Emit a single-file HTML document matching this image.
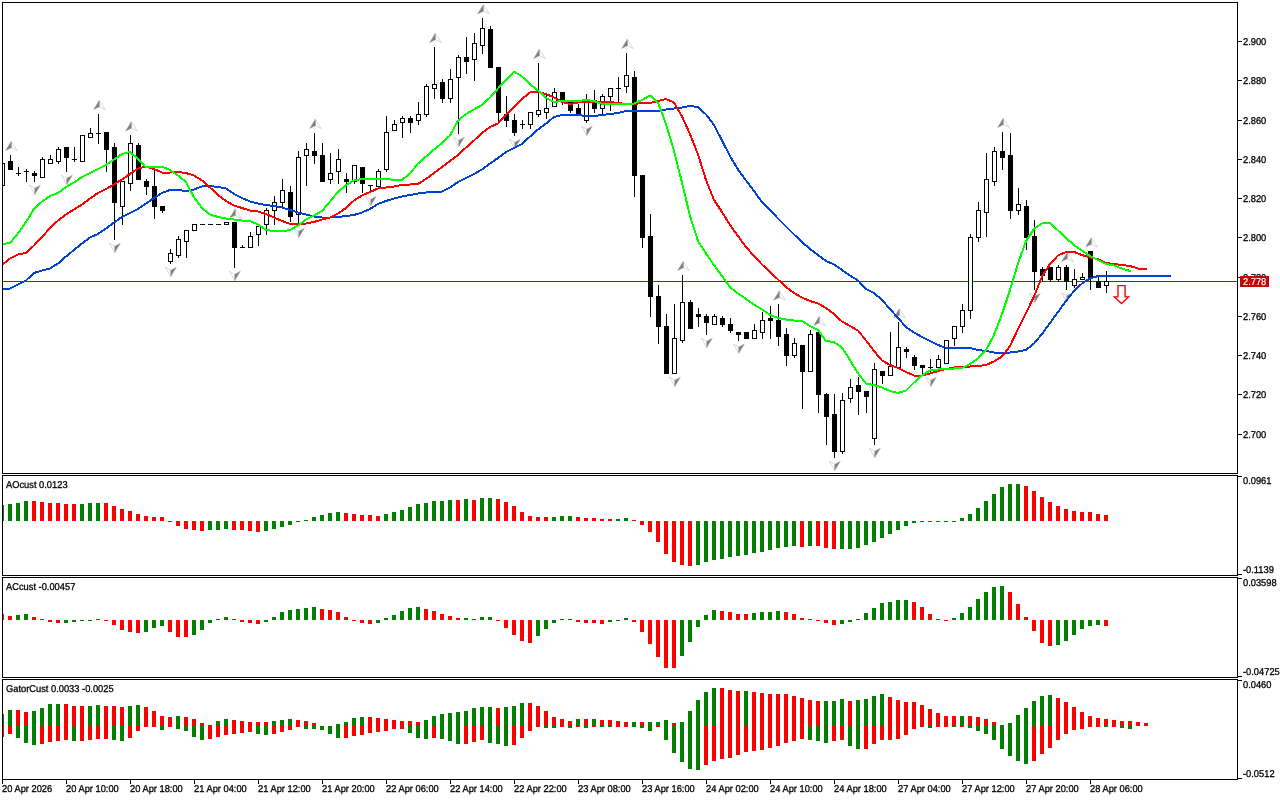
<!DOCTYPE html>
<html lang="en"><head><meta charset="utf-8"><title>Chart</title>
<style>html,body{margin:0;padding:0;background:#fff;overflow:hidden}svg{display:block}text{font-family:"Liberation Sans", Arial, sans-serif;font-size:9.9px;text-rendering:geometricPrecision;fill:#000;stroke:#000;stroke-width:0.3px}</style></head><body>
<svg width="1280" height="800" viewBox="0 0 1280 800">
<rect width="1280" height="800" fill="#fff"/>
<defs><clipPath id="cm"><rect x="3" y="3" width="1234" height="470"/></clipPath><clipPath id="c1"><rect x="3" y="476" width="1234" height="99"/></clipPath><clipPath id="c2"><rect x="3" y="578" width="1234" height="99"/></clipPath><clipPath id="c3"><rect x="3" y="680" width="1234" height="99"/></clipPath></defs>
<g clip-path="url(#cm)" shape-rendering="crispEdges">
<rect x="3" y="281" width="1234" height="1" fill="#cc0000"/>
<g fill="#000"><rect x="2" y="163" width="1" height="23"/><rect x="0" y="163" width="5" height="23"/><rect x="1" y="164" width="3" height="21" fill="#fff"/><rect x="10" y="155" width="1" height="15"/><rect x="8" y="161" width="5" height="9"/><rect x="18" y="167" width="1" height="9"/><rect x="16" y="173" width="5" height="1"/><rect x="26" y="169" width="1" height="13"/><rect x="24" y="171" width="5" height="1"/><rect x="34" y="171" width="1" height="11"/><rect x="32" y="173" width="5" height="3"/><rect x="42" y="157" width="1" height="21"/><rect x="40" y="159" width="5" height="19"/><rect x="41" y="160" width="3" height="17" fill="#fff"/><rect x="50" y="155" width="1" height="9"/><rect x="48" y="159" width="5" height="5"/><rect x="49" y="160" width="3" height="3" fill="#fff"/><rect x="58" y="147" width="1" height="17"/><rect x="56" y="149" width="5" height="13"/><rect x="57" y="150" width="3" height="11" fill="#fff"/><rect x="66" y="147" width="1" height="25"/><rect x="64" y="147" width="5" height="11"/><rect x="74" y="147" width="1" height="15"/><rect x="72" y="159" width="5" height="1"/><rect x="82" y="135" width="1" height="27"/><rect x="80" y="135" width="5" height="27"/><rect x="81" y="136" width="3" height="25" fill="#fff"/><rect x="90" y="128" width="1" height="10"/><rect x="88" y="133" width="5" height="5"/><rect x="89" y="134" width="3" height="3" fill="#fff"/><rect x="98" y="114" width="1" height="30"/><rect x="96" y="133" width="5" height="1"/><rect x="106" y="132" width="1" height="40"/><rect x="104" y="132" width="5" height="18"/><rect x="114" y="143" width="1" height="97"/><rect x="112" y="147" width="5" height="56"/><rect x="122" y="181" width="1" height="44"/><rect x="120" y="181" width="5" height="26"/><rect x="121" y="182" width="3" height="24" fill="#fff"/><rect x="130" y="135" width="1" height="56"/><rect x="128" y="143" width="5" height="41"/><rect x="129" y="144" width="3" height="39" fill="#fff"/><rect x="138" y="143" width="1" height="37"/><rect x="136" y="145" width="5" height="35"/><rect x="146" y="179" width="1" height="16"/><rect x="144" y="181" width="5" height="6"/><rect x="154" y="170" width="1" height="49"/><rect x="152" y="186" width="5" height="21"/><rect x="162" y="206" width="1" height="7"/><rect x="160" y="206" width="5" height="5"/><rect x="170" y="249" width="1" height="15"/><rect x="168" y="253" width="5" height="9"/><rect x="169" y="254" width="3" height="7" fill="#fff"/><rect x="178" y="236" width="1" height="22"/><rect x="176" y="239" width="5" height="17"/><rect x="177" y="240" width="3" height="15" fill="#fff"/><rect x="186" y="230" width="1" height="28"/><rect x="184" y="230" width="5" height="12"/><rect x="185" y="231" width="3" height="10" fill="#fff"/><rect x="194" y="224" width="1" height="7"/><rect x="192" y="224" width="5" height="7"/><rect x="193" y="225" width="3" height="5" fill="#fff"/><rect x="202" y="224" width="1" height="1"/><rect x="200" y="224" width="5" height="1"/><rect x="210" y="224" width="1" height="1"/><rect x="208" y="224" width="5" height="1"/><rect x="218" y="224" width="1" height="1"/><rect x="216" y="224" width="5" height="1"/><rect x="226" y="222" width="1" height="3"/><rect x="224" y="222" width="5" height="3"/><rect x="225" y="223" width="3" height="1" fill="#fff"/><rect x="234" y="222" width="1" height="46"/><rect x="232" y="222" width="5" height="26"/><rect x="242" y="245" width="1" height="3"/><rect x="240" y="247" width="5" height="1"/><rect x="250" y="232" width="1" height="16"/><rect x="248" y="236" width="5" height="12"/><rect x="249" y="237" width="3" height="10" fill="#fff"/><rect x="258" y="226" width="1" height="20"/><rect x="256" y="226" width="5" height="9"/><rect x="257" y="227" width="3" height="7" fill="#fff"/><rect x="266" y="208" width="1" height="27"/><rect x="264" y="210" width="5" height="15"/><rect x="265" y="211" width="3" height="13" fill="#fff"/><rect x="274" y="196" width="1" height="29"/><rect x="272" y="202" width="5" height="9"/><rect x="273" y="203" width="3" height="7" fill="#fff"/><rect x="282" y="179" width="1" height="28"/><rect x="280" y="190" width="5" height="13"/><rect x="281" y="191" width="3" height="11" fill="#fff"/><rect x="290" y="186" width="1" height="36"/><rect x="288" y="192" width="5" height="25"/><rect x="298" y="151" width="1" height="73"/><rect x="296" y="157" width="5" height="58"/><rect x="297" y="158" width="3" height="56" fill="#fff"/><rect x="306" y="143" width="1" height="43"/><rect x="304" y="149" width="5" height="7"/><rect x="305" y="150" width="3" height="5" fill="#fff"/><rect x="314" y="133" width="1" height="31"/><rect x="312" y="151" width="5" height="5"/><rect x="322" y="143" width="1" height="39"/><rect x="320" y="155" width="5" height="27"/><rect x="330" y="153" width="1" height="31"/><rect x="328" y="173" width="5" height="7"/><rect x="329" y="174" width="3" height="5" fill="#fff"/><rect x="338" y="149" width="1" height="35"/><rect x="336" y="159" width="5" height="13"/><rect x="337" y="160" width="3" height="11" fill="#fff"/><rect x="346" y="173" width="1" height="20"/><rect x="344" y="179" width="5" height="3"/><rect x="354" y="165" width="1" height="19"/><rect x="352" y="165" width="5" height="17"/><rect x="353" y="166" width="3" height="15" fill="#fff"/><rect x="362" y="167" width="1" height="26"/><rect x="360" y="167" width="5" height="17"/><rect x="370" y="185" width="1" height="7"/><rect x="368" y="185" width="5" height="1"/><rect x="378" y="169" width="1" height="18"/><rect x="376" y="171" width="5" height="16"/><rect x="377" y="172" width="3" height="14" fill="#fff"/><rect x="386" y="116" width="1" height="56"/><rect x="384" y="132" width="5" height="38"/><rect x="385" y="133" width="3" height="36" fill="#fff"/><rect x="394" y="120" width="1" height="11"/><rect x="392" y="124" width="5" height="7"/><rect x="393" y="125" width="3" height="5" fill="#fff"/><rect x="402" y="116" width="1" height="22"/><rect x="400" y="118" width="5" height="5"/><rect x="401" y="119" width="3" height="3" fill="#fff"/><rect x="410" y="116" width="1" height="17"/><rect x="408" y="118" width="5" height="5"/><rect x="418" y="102" width="1" height="23"/><rect x="416" y="114" width="5" height="7"/><rect x="417" y="115" width="3" height="5" fill="#fff"/><rect x="426" y="84" width="1" height="33"/><rect x="424" y="86" width="5" height="29"/><rect x="425" y="87" width="3" height="27" fill="#fff"/><rect x="434" y="47" width="1" height="52"/><rect x="432" y="84" width="5" height="5"/><rect x="433" y="85" width="3" height="3" fill="#fff"/><rect x="442" y="79" width="1" height="24"/><rect x="440" y="82" width="5" height="17"/><rect x="450" y="69" width="1" height="34"/><rect x="448" y="79" width="5" height="20"/><rect x="449" y="80" width="3" height="18" fill="#fff"/><rect x="458" y="55" width="1" height="79"/><rect x="456" y="57" width="5" height="21"/><rect x="457" y="58" width="3" height="19" fill="#fff"/><rect x="466" y="37" width="1" height="37"/><rect x="464" y="57" width="5" height="5"/><rect x="474" y="33" width="1" height="48"/><rect x="472" y="43" width="5" height="17"/><rect x="473" y="44" width="3" height="15" fill="#fff"/><rect x="482" y="18" width="1" height="36"/><rect x="480" y="28" width="5" height="18"/><rect x="481" y="29" width="3" height="16" fill="#fff"/><rect x="490" y="26" width="1" height="42"/><rect x="488" y="29" width="5" height="39"/><rect x="498" y="67" width="1" height="54"/><rect x="496" y="67" width="5" height="46"/><rect x="506" y="96" width="1" height="31"/><rect x="504" y="114" width="5" height="7"/><rect x="514" y="114" width="1" height="22"/><rect x="512" y="120" width="5" height="13"/><rect x="522" y="120" width="1" height="9"/><rect x="520" y="124" width="5" height="1"/><rect x="530" y="112" width="1" height="17"/><rect x="528" y="112" width="5" height="13"/><rect x="529" y="113" width="3" height="11" fill="#fff"/><rect x="538" y="63" width="1" height="54"/><rect x="536" y="110" width="5" height="5"/><rect x="537" y="111" width="3" height="3" fill="#fff"/><rect x="546" y="95" width="1" height="24"/><rect x="544" y="108" width="5" height="5"/><rect x="545" y="109" width="3" height="3" fill="#fff"/><rect x="554" y="88" width="1" height="19"/><rect x="552" y="92" width="5" height="15"/><rect x="553" y="93" width="3" height="13" fill="#fff"/><rect x="562" y="92" width="1" height="13"/><rect x="560" y="92" width="5" height="9"/><rect x="570" y="100" width="1" height="13"/><rect x="568" y="102" width="5" height="9"/><rect x="578" y="104" width="1" height="12"/><rect x="576" y="108" width="5" height="8"/><rect x="586" y="94" width="1" height="29"/><rect x="584" y="101" width="5" height="20"/><rect x="585" y="102" width="3" height="18" fill="#fff"/><rect x="594" y="90" width="1" height="23"/><rect x="592" y="100" width="5" height="9"/><rect x="602" y="94" width="1" height="20"/><rect x="600" y="96" width="5" height="13"/><rect x="601" y="97" width="3" height="11" fill="#fff"/><rect x="610" y="88" width="1" height="23"/><rect x="608" y="88" width="5" height="9"/><rect x="609" y="89" width="3" height="7" fill="#fff"/><rect x="618" y="77" width="1" height="26"/><rect x="616" y="88" width="5" height="1"/><rect x="626" y="53" width="1" height="40"/><rect x="624" y="75" width="5" height="12"/><rect x="625" y="76" width="3" height="10" fill="#fff"/><rect x="634" y="71" width="1" height="126"/><rect x="632" y="77" width="5" height="99"/><rect x="642" y="175" width="1" height="73"/><rect x="640" y="175" width="5" height="63"/><rect x="650" y="214" width="1" height="103"/><rect x="648" y="236" width="5" height="61"/><rect x="658" y="285" width="1" height="59"/><rect x="656" y="296" width="5" height="31"/><rect x="666" y="314" width="1" height="60"/><rect x="664" y="326" width="5" height="48"/><rect x="674" y="304" width="1" height="70"/><rect x="672" y="338" width="5" height="36"/><rect x="673" y="339" width="3" height="34" fill="#fff"/><rect x="682" y="275" width="1" height="68"/><rect x="680" y="302" width="5" height="39"/><rect x="681" y="303" width="3" height="37" fill="#fff"/><rect x="690" y="300" width="1" height="29"/><rect x="688" y="302" width="5" height="27"/><rect x="698" y="308" width="1" height="19"/><rect x="696" y="314" width="5" height="3"/><rect x="706" y="314" width="1" height="21"/><rect x="704" y="316" width="5" height="7"/><rect x="714" y="314" width="1" height="11"/><rect x="712" y="316" width="5" height="9"/><rect x="713" y="317" width="3" height="7" fill="#fff"/><rect x="722" y="316" width="1" height="11"/><rect x="720" y="318" width="5" height="7"/><rect x="730" y="318" width="1" height="15"/><rect x="728" y="324" width="5" height="7"/><rect x="738" y="332" width="1" height="9"/><rect x="736" y="332" width="5" height="3"/><rect x="746" y="332" width="1" height="7"/><rect x="744" y="332" width="5" height="7"/><rect x="754" y="324" width="1" height="15"/><rect x="752" y="330" width="5" height="9"/><rect x="753" y="331" width="3" height="7" fill="#fff"/><rect x="762" y="312" width="1" height="27"/><rect x="760" y="320" width="5" height="13"/><rect x="761" y="321" width="3" height="11" fill="#fff"/><rect x="770" y="306" width="1" height="33"/><rect x="768" y="318" width="5" height="3"/><rect x="778" y="304" width="1" height="42"/><rect x="776" y="320" width="5" height="17"/><rect x="786" y="328" width="1" height="38"/><rect x="784" y="334" width="5" height="22"/><rect x="794" y="338" width="1" height="20"/><rect x="792" y="343" width="5" height="13"/><rect x="793" y="344" width="3" height="11" fill="#fff"/><rect x="802" y="345" width="1" height="64"/><rect x="800" y="345" width="5" height="27"/><rect x="810" y="330" width="1" height="42"/><rect x="808" y="334" width="5" height="38"/><rect x="809" y="335" width="3" height="36" fill="#fff"/><rect x="818" y="332" width="1" height="81"/><rect x="816" y="332" width="5" height="63"/><rect x="826" y="393" width="1" height="52"/><rect x="824" y="394" width="5" height="23"/><rect x="834" y="394" width="1" height="64"/><rect x="832" y="414" width="5" height="38"/><rect x="842" y="393" width="1" height="61"/><rect x="840" y="400" width="5" height="52"/><rect x="841" y="401" width="3" height="50" fill="#fff"/><rect x="850" y="379" width="1" height="24"/><rect x="848" y="387" width="5" height="12"/><rect x="849" y="388" width="3" height="10" fill="#fff"/><rect x="858" y="377" width="1" height="38"/><rect x="856" y="385" width="5" height="7"/><rect x="866" y="391" width="1" height="22"/><rect x="864" y="391" width="5" height="6"/><rect x="874" y="363" width="1" height="82"/><rect x="872" y="369" width="5" height="70"/><rect x="873" y="370" width="3" height="68" fill="#fff"/><rect x="882" y="371" width="1" height="13"/><rect x="880" y="371" width="5" height="5"/><rect x="890" y="332" width="1" height="44"/><rect x="888" y="366" width="5" height="10"/><rect x="889" y="367" width="3" height="8" fill="#fff"/><rect x="898" y="322" width="1" height="46"/><rect x="896" y="347" width="5" height="21"/><rect x="897" y="348" width="3" height="19" fill="#fff"/><rect x="906" y="347" width="1" height="11"/><rect x="904" y="349" width="5" height="3"/><rect x="914" y="355" width="1" height="15"/><rect x="912" y="357" width="5" height="9"/><rect x="922" y="365" width="1" height="11"/><rect x="920" y="365" width="5" height="3"/><rect x="930" y="359" width="1" height="15"/><rect x="928" y="367" width="5" height="1"/><rect x="938" y="355" width="1" height="13"/><rect x="936" y="359" width="5" height="9"/><rect x="937" y="360" width="3" height="7" fill="#fff"/><rect x="946" y="340" width="1" height="24"/><rect x="944" y="340" width="5" height="24"/><rect x="945" y="341" width="3" height="22" fill="#fff"/><rect x="954" y="326" width="1" height="20"/><rect x="952" y="326" width="5" height="13"/><rect x="953" y="327" width="3" height="11" fill="#fff"/><rect x="962" y="304" width="1" height="29"/><rect x="960" y="310" width="5" height="17"/><rect x="961" y="311" width="3" height="15" fill="#fff"/><rect x="970" y="234" width="1" height="85"/><rect x="968" y="237" width="5" height="74"/><rect x="969" y="238" width="3" height="72" fill="#fff"/><rect x="978" y="202" width="1" height="40"/><rect x="976" y="210" width="5" height="28"/><rect x="977" y="211" width="3" height="26" fill="#fff"/><rect x="986" y="153" width="1" height="84"/><rect x="984" y="179" width="5" height="34"/><rect x="985" y="180" width="3" height="32" fill="#fff"/><rect x="994" y="147" width="1" height="39"/><rect x="992" y="151" width="5" height="31"/><rect x="993" y="152" width="3" height="29" fill="#fff"/><rect x="1002" y="132" width="1" height="38"/><rect x="1000" y="151" width="5" height="7"/><rect x="1010" y="133" width="1" height="86"/><rect x="1008" y="155" width="5" height="56"/><rect x="1018" y="188" width="1" height="27"/><rect x="1016" y="204" width="5" height="7"/><rect x="1017" y="205" width="3" height="5" fill="#fff"/><rect x="1026" y="200" width="1" height="50"/><rect x="1024" y="206" width="5" height="32"/><rect x="1034" y="220" width="1" height="70"/><rect x="1032" y="236" width="5" height="36"/><rect x="1042" y="267" width="1" height="15"/><rect x="1040" y="269" width="5" height="7"/><rect x="1050" y="267" width="1" height="15"/><rect x="1048" y="267" width="5" height="13"/><rect x="1058" y="265" width="1" height="17"/><rect x="1056" y="267" width="5" height="13"/><rect x="1057" y="268" width="3" height="11" fill="#fff"/><rect x="1066" y="265" width="1" height="25"/><rect x="1064" y="267" width="5" height="15"/><rect x="1074" y="269" width="1" height="19"/><rect x="1072" y="279" width="5" height="7"/><rect x="1073" y="280" width="3" height="5" fill="#fff"/><rect x="1082" y="273" width="1" height="7"/><rect x="1080" y="277" width="5" height="3"/><rect x="1081" y="278" width="3" height="1" fill="#fff"/><rect x="1090" y="251" width="1" height="39"/><rect x="1088" y="251" width="5" height="28"/><rect x="1098" y="275" width="1" height="13"/><rect x="1096" y="281" width="5" height="7"/><rect x="1106" y="271" width="1" height="22"/><rect x="1104" y="281" width="5" height="5"/><rect x="1105" y="282" width="3" height="3" fill="#fff"/></g>
</g>
<g clip-path="url(#cm)">
<path d="M11.25 141.3 L17.4 150.6 L11.5 147.8 Z" fill="#fff" stroke="#bcbcc8" stroke-width="0.6"/>
<path d="M11.25 141.3 L5.6 150.6 L11.5 147.8 Z" fill="#808080" stroke="#a0a0a0" stroke-width="0.4"/>
<path d="M99.25 100.3 L105.4 109.6 L99.5 106.8 Z" fill="#fff" stroke="#bcbcc8" stroke-width="0.6"/>
<path d="M99.25 100.3 L93.6 109.6 L99.5 106.8 Z" fill="#808080" stroke="#a0a0a0" stroke-width="0.4"/>
<path d="M131.25 121.8 L137.4 131.1 L131.5 128.3 Z" fill="#fff" stroke="#bcbcc8" stroke-width="0.6"/>
<path d="M131.25 121.8 L125.6 131.1 L131.5 128.3 Z" fill="#808080" stroke="#a0a0a0" stroke-width="0.4"/>
<path d="M235.25 208.8 L241.4 218.1 L235.5 215.3 Z" fill="#fff" stroke="#bcbcc8" stroke-width="0.6"/>
<path d="M235.25 208.8 L229.6 218.1 L235.5 215.3 Z" fill="#808080" stroke="#a0a0a0" stroke-width="0.4"/>
<path d="M315.25 119.3 L321.4 128.6 L315.5 125.8 Z" fill="#fff" stroke="#bcbcc8" stroke-width="0.6"/>
<path d="M315.25 119.3 L309.6 128.6 L315.5 125.8 Z" fill="#808080" stroke="#a0a0a0" stroke-width="0.4"/>
<path d="M435.25 33.3 L441.4 42.6 L435.5 39.8 Z" fill="#fff" stroke="#bcbcc8" stroke-width="0.6"/>
<path d="M435.25 33.3 L429.6 42.6 L435.5 39.8 Z" fill="#808080" stroke="#a0a0a0" stroke-width="0.4"/>
<path d="M483.25 4.7 L489.4 14 L483.5 11.2 Z" fill="#fff" stroke="#bcbcc8" stroke-width="0.6"/>
<path d="M483.25 4.7 L477.6 14 L483.5 11.2 Z" fill="#808080" stroke="#a0a0a0" stroke-width="0.4"/>
<path d="M539.25 49.3 L545.4 58.6 L539.5 55.8 Z" fill="#fff" stroke="#bcbcc8" stroke-width="0.6"/>
<path d="M539.25 49.3 L533.6 58.6 L539.5 55.8 Z" fill="#808080" stroke="#a0a0a0" stroke-width="0.4"/>
<path d="M627.25 39.3 L633.4 48.6 L627.5 45.8 Z" fill="#fff" stroke="#bcbcc8" stroke-width="0.6"/>
<path d="M627.25 39.3 L621.6 48.6 L627.5 45.8 Z" fill="#808080" stroke="#a0a0a0" stroke-width="0.4"/>
<path d="M683.25 261.3 L689.4 270.6 L683.5 267.8 Z" fill="#fff" stroke="#bcbcc8" stroke-width="0.6"/>
<path d="M683.25 261.3 L677.6 270.6 L683.5 267.8 Z" fill="#808080" stroke="#a0a0a0" stroke-width="0.4"/>
<path d="M779.25 290.9 L785.4 300.2 L779.5 297.4 Z" fill="#fff" stroke="#bcbcc8" stroke-width="0.6"/>
<path d="M779.25 290.9 L773.6 300.2 L779.5 297.4 Z" fill="#808080" stroke="#a0a0a0" stroke-width="0.4"/>
<path d="M819.25 316.3 L825.4 325.6 L819.5 322.8 Z" fill="#fff" stroke="#bcbcc8" stroke-width="0.6"/>
<path d="M819.25 316.3 L813.6 325.6 L819.5 322.8 Z" fill="#808080" stroke="#a0a0a0" stroke-width="0.4"/>
<path d="M899.25 308.8 L905.4 318.1 L899.5 315.3 Z" fill="#fff" stroke="#bcbcc8" stroke-width="0.6"/>
<path d="M899.25 308.8 L893.6 318.1 L899.5 315.3 Z" fill="#808080" stroke="#a0a0a0" stroke-width="0.4"/>
<path d="M1003.25 118.3 L1009.4 127.6 L1003.5 124.8 Z" fill="#fff" stroke="#bcbcc8" stroke-width="0.6"/>
<path d="M1003.25 118.3 L997.6 127.6 L1003.5 124.8 Z" fill="#808080" stroke="#a0a0a0" stroke-width="0.4"/>
<path d="M1067.25 252.3 L1073.4 261.6 L1067.5 258.8 Z" fill="#fff" stroke="#bcbcc8" stroke-width="0.6"/>
<path d="M1067.25 252.3 L1061.6 261.6 L1067.5 258.8 Z" fill="#808080" stroke="#a0a0a0" stroke-width="0.4"/>
<path d="M1091.25 237.8 L1097.4 247.1 L1091.5 244.3 Z" fill="#fff" stroke="#bcbcc8" stroke-width="0.6"/>
<path d="M1091.25 237.8 L1085.6 247.1 L1091.5 244.3 Z" fill="#808080" stroke="#a0a0a0" stroke-width="0.4"/>
<path d="M34.75 194.5 L29.4 185.2 L34.75 188.2 Z" fill="#fff" stroke="#bcbcc8" stroke-width="0.6"/>
<path d="M34.75 194.5 L40.4 185.2 L34.75 188.2 Z" fill="#808080" stroke="#a0a0a0" stroke-width="0.4"/>
<path d="M66.75 184.5 L61.4 175.2 L66.75 178.2 Z" fill="#fff" stroke="#bcbcc8" stroke-width="0.6"/>
<path d="M66.75 184.5 L72.4 175.2 L66.75 178.2 Z" fill="#808080" stroke="#a0a0a0" stroke-width="0.4"/>
<path d="M114.75 252.5 L109.4 243.2 L114.75 246.2 Z" fill="#fff" stroke="#bcbcc8" stroke-width="0.6"/>
<path d="M114.75 252.5 L120.4 243.2 L114.75 246.2 Z" fill="#808080" stroke="#a0a0a0" stroke-width="0.4"/>
<path d="M170.75 276.5 L165.4 267.2 L170.75 270.2 Z" fill="#fff" stroke="#bcbcc8" stroke-width="0.6"/>
<path d="M170.75 276.5 L176.4 267.2 L170.75 270.2 Z" fill="#808080" stroke="#a0a0a0" stroke-width="0.4"/>
<path d="M234.75 280.5 L229.4 271.2 L234.75 274.2 Z" fill="#fff" stroke="#bcbcc8" stroke-width="0.6"/>
<path d="M234.75 280.5 L240.4 271.2 L234.75 274.2 Z" fill="#808080" stroke="#a0a0a0" stroke-width="0.4"/>
<path d="M298.75 237.5 L293.4 228.2 L298.75 231.2 Z" fill="#fff" stroke="#bcbcc8" stroke-width="0.6"/>
<path d="M298.75 237.5 L304.4 228.2 L298.75 231.2 Z" fill="#808080" stroke="#a0a0a0" stroke-width="0.4"/>
<path d="M370.75 205.5 L365.4 196.2 L370.75 199.2 Z" fill="#fff" stroke="#bcbcc8" stroke-width="0.6"/>
<path d="M370.75 205.5 L376.4 196.2 L370.75 199.2 Z" fill="#808080" stroke="#a0a0a0" stroke-width="0.4"/>
<path d="M458.75 146.5 L453.4 137.2 L458.75 140.2 Z" fill="#fff" stroke="#bcbcc8" stroke-width="0.6"/>
<path d="M458.75 146.5 L464.4 137.2 L458.75 140.2 Z" fill="#808080" stroke="#a0a0a0" stroke-width="0.4"/>
<path d="M514.75 148.5 L509.4 139.2 L514.75 142.2 Z" fill="#fff" stroke="#bcbcc8" stroke-width="0.6"/>
<path d="M514.75 148.5 L520.4 139.2 L514.75 142.2 Z" fill="#808080" stroke="#a0a0a0" stroke-width="0.4"/>
<path d="M586.75 135.5 L581.4 126.2 L586.75 129.2 Z" fill="#fff" stroke="#bcbcc8" stroke-width="0.6"/>
<path d="M586.75 135.5 L592.4 126.2 L586.75 129.2 Z" fill="#808080" stroke="#a0a0a0" stroke-width="0.4"/>
<path d="M674.75 386.5 L669.4 377.2 L674.75 380.2 Z" fill="#fff" stroke="#bcbcc8" stroke-width="0.6"/>
<path d="M674.75 386.5 L680.4 377.2 L674.75 380.2 Z" fill="#808080" stroke="#a0a0a0" stroke-width="0.4"/>
<path d="M706.75 347.5 L701.4 338.2 L706.75 341.2 Z" fill="#fff" stroke="#bcbcc8" stroke-width="0.6"/>
<path d="M706.75 347.5 L712.4 338.2 L706.75 341.2 Z" fill="#808080" stroke="#a0a0a0" stroke-width="0.4"/>
<path d="M738.75 353.25 L733.4 343.95 L738.75 346.95 Z" fill="#fff" stroke="#bcbcc8" stroke-width="0.6"/>
<path d="M738.75 353.25 L744.4 343.95 L738.75 346.95 Z" fill="#808080" stroke="#a0a0a0" stroke-width="0.4"/>
<path d="M834.75 470.5 L829.4 461.2 L834.75 464.2 Z" fill="#fff" stroke="#bcbcc8" stroke-width="0.6"/>
<path d="M834.75 470.5 L840.4 461.2 L834.75 464.2 Z" fill="#808080" stroke="#a0a0a0" stroke-width="0.4"/>
<path d="M874.75 457.5 L869.4 448.2 L874.75 451.2 Z" fill="#fff" stroke="#bcbcc8" stroke-width="0.6"/>
<path d="M874.75 457.5 L880.4 448.2 L874.75 451.2 Z" fill="#808080" stroke="#a0a0a0" stroke-width="0.4"/>
<path d="M930.75 386.5 L925.4 377.2 L930.75 380.2 Z" fill="#fff" stroke="#bcbcc8" stroke-width="0.6"/>
<path d="M930.75 386.5 L936.4 377.2 L930.75 380.2 Z" fill="#808080" stroke="#a0a0a0" stroke-width="0.4"/>
<path d="M1034.75 302.5 L1029.4 293.2 L1034.75 296.2 Z" fill="#fff" stroke="#bcbcc8" stroke-width="0.6"/>
<path d="M1034.75 302.5 L1040.4 293.2 L1034.75 296.2 Z" fill="#808080" stroke="#a0a0a0" stroke-width="0.4"/>
<path d="M1066.75 302 L1061.4 292.7 L1066.75 295.7 Z" fill="#fff" stroke="#bcbcc8" stroke-width="0.6"/>
<path d="M1066.75 302 L1072.4 292.7 L1066.75 295.7 Z" fill="#808080" stroke="#a0a0a0" stroke-width="0.4"/>
<g shape-rendering="crispEdges">
<polyline fill="none" stroke="#0042d2" stroke-width="2" stroke-linejoin="round" stroke-linecap="square" points="2,288.5 10,288.5 18,284.5 26,280.5 34,273 42,270.5 50,268.5 58,263.5 66,256.5 74,250 82,243.5 90,237.5 98,234 106,228.5 114,222.5 122,217 130,213 138,209 146,203.5 154,198 162,193 170,190 178,190 186,191 194,189.5 202,186.5 210,186 218,187 226,188.5 234,194 242,198 250,201.5 258,203.5 266,205 274,206 282,207.5 290,210 298,212.5 306,214.5 314,216.5 322,217.5 330,217.5 338,217 346,216 354,215 362,212.5 370,209 378,204 386,201 394,198.5 402,196.5 410,195 418,193.5 426,192.5 434,192 442,191.5 450,187.5 458,182 466,178 474,174 482,169.5 490,163.5 498,158 506,152 514,148 522,144 530,136.5 538,129.5 546,123.5 554,117 562,115 570,115 578,115 586,116 594,116 602,115 610,114 618,113 626,111 634,111 642,111 650,111 658,111 666,109.5 674,108.5 682,107.5 690,106 698,107 706,114.5 714,125 722,140.5 730,156 738,169.5 746,180.5 754,191 762,202 770,210 778,218.5 786,226.5 794,234.5 802,242 810,249 818,255 826,261 834,264.5 842,270 850,275.5 858,280.5 866,289 874,293 882,300 890,309 898,318 906,327 914,332.5 922,337 930,341 938,345 946,348 954,348 962,348 970,348 978,350 986,351 994,352.5 1002,352.5 1010,352.5 1018,351.5 1026,350 1034,343.5 1042,334 1050,323 1058,312 1066,301 1074,291 1082,283.5 1090,278.5 1098,276 1106,276 1114,276 1122,276 1130,276 1138,276 1146,276 1154,276 1162,276 1170,276"/>
<polyline fill="none" stroke="#ff0000" stroke-width="2" stroke-linejoin="round" stroke-linecap="square" points="2,265 10,258.5 18,254.5 26,253 34,245.5 42,237 50,228 58,220.5 66,214.5 74,209.5 82,204.5 90,198.5 98,193 106,189 114,184.5 122,179.5 130,174 138,168.5 146,166.5 154,169 162,172.5 170,172.5 178,172 186,173 194,175.5 202,180.5 210,187.5 218,195 226,201 234,205.5 242,208 250,210.5 258,211.5 266,214 274,217.5 282,221 290,224 298,224 306,223.5 314,222 322,219.5 330,217.5 338,213.5 346,208 354,200.5 362,195.5 370,192 378,188.5 386,187.5 394,186.5 402,185 410,184.5 418,184 426,179 434,173 442,167 450,161 458,155 466,147.5 474,140.5 482,133 490,127 498,123.5 506,114.5 514,107 522,99 530,92.5 538,92 546,94 554,97.5 562,102 570,104 578,102.5 586,102 594,102 602,102 610,102 618,103 626,104 634,104 642,103 650,103 658,101 666,99 674,102.5 682,116.5 690,134 698,154.5 706,180 714,200 722,212 730,225 738,236 746,247 754,256 762,264.5 770,272 778,279.5 786,287 794,293 802,297.5 810,301 818,303.5 826,308 834,314 842,321.5 850,326 858,330.5 866,340.5 874,351 882,360.5 890,365 898,368 906,372 914,375.5 922,375.5 930,373.5 938,371 946,369 954,367.5 962,367 970,366.5 978,366 986,365 994,361.5 1002,356.5 1010,346 1018,329 1026,313 1034,296.5 1042,276.5 1050,264 1058,255.5 1066,252 1074,252 1082,255 1090,257.5 1098,259 1106,263 1114,264 1122,265 1130,266 1138,268.5 1146,269"/>
<polyline fill="none" stroke="#00ff00" stroke-width="2" stroke-linejoin="round" stroke-linecap="square" points="2,244 10,243 18,233.5 26,222 34,209 42,201.5 50,196 58,193 66,187 74,182.5 82,177 90,173 98,169 106,165 114,159.5 122,154 130,152 138,159 146,167.5 154,167 162,166.5 170,170 178,175.5 186,182 194,197.5 202,208 210,214.5 218,217 226,218.5 234,219.5 242,220.5 250,221 258,224.5 266,230 274,231 282,231.5 290,230 298,225.5 306,219.5 314,215.5 322,211 330,201.5 338,192 346,185 354,180.5 362,179 370,179 378,178.5 386,178.5 394,180 402,180 410,173.5 418,163.5 426,156.5 434,149.5 442,143 450,135.5 458,120.5 466,114 474,109.5 482,105 490,97.5 498,88.5 506,80 514,71.5 522,76.5 530,84 538,90.5 546,98 554,102 562,101 570,101 578,101 586,100 594,101 602,104 610,104 618,104 626,104 634,103.5 642,100 650,95.5 658,102.5 666,124 674,151 682,182.5 690,216 698,241 706,253.5 714,265 722,276 730,287 738,293.5 746,299 754,304.5 762,309.5 770,315 778,318 786,319.5 794,320.5 802,321 810,326 818,330 826,341 834,342 842,347.5 850,360 858,373.5 866,383.5 874,385 882,387.5 890,391 898,393 906,390.5 914,382.5 922,375.5 930,370.5 938,369.5 946,369 954,368.5 962,368 970,364 978,358.5 986,350 994,335 1002,314 1010,290 1018,263.5 1026,241 1034,229 1042,223.5 1050,223 1058,230.5 1066,238 1074,245 1082,250.5 1090,256 1098,260 1106,264 1114,265.5 1122,268.5 1130,271"/>
</g>
<path d="M1118 285.6 H1125.1 V296.9 H1128.6 L1121.5 303.6 L1114.4 296.9 H1118 Z" fill="#fff" stroke="#ff0000" stroke-width="1.4"/>
</g>
<g clip-path="url(#c1)" shape-rendering="crispEdges"><g fill="#ff0000"><rect x="32" y="501" width="4" height="20"/><rect x="40" y="502" width="4" height="19"/><rect x="48" y="503" width="4" height="18"/><rect x="56" y="503" width="4" height="18"/><rect x="64" y="504" width="4" height="17"/><rect x="72" y="504" width="4" height="17"/><rect x="104" y="503" width="4" height="18"/><rect x="112" y="506" width="4" height="15"/><rect x="120" y="509" width="4" height="12"/><rect x="128" y="511" width="4" height="10"/><rect x="136" y="514" width="4" height="7"/><rect x="144" y="516" width="4" height="5"/><rect x="152" y="517" width="4" height="4"/><rect x="160" y="517" width="4" height="4"/><rect x="168" y="521" width="4" height="1"/><rect x="176" y="521" width="4" height="5"/><rect x="184" y="521" width="4" height="8"/><rect x="192" y="521" width="4" height="9"/><rect x="200" y="521" width="4" height="10"/><rect x="232" y="521" width="4" height="9"/><rect x="240" y="521" width="4" height="9"/><rect x="248" y="521" width="4" height="10"/><rect x="256" y="521" width="4" height="11"/><rect x="344" y="513" width="4" height="8"/><rect x="352" y="514" width="4" height="7"/><rect x="360" y="515" width="4" height="6"/><rect x="368" y="515" width="4" height="6"/><rect x="376" y="516" width="4" height="5"/><rect x="456" y="500" width="4" height="21"/><rect x="472" y="500" width="4" height="21"/><rect x="496" y="499" width="4" height="22"/><rect x="504" y="502" width="4" height="19"/><rect x="512" y="506" width="4" height="15"/><rect x="520" y="512" width="4" height="9"/><rect x="528" y="516" width="4" height="5"/><rect x="536" y="517" width="4" height="4"/><rect x="544" y="517" width="4" height="4"/><rect x="576" y="517" width="4" height="4"/><rect x="584" y="518" width="4" height="3"/><rect x="592" y="518" width="4" height="3"/><rect x="600" y="519" width="4" height="2"/><rect x="608" y="519" width="4" height="2"/><rect x="632" y="520" width="4" height="1"/><rect x="640" y="521" width="4" height="4"/><rect x="648" y="521" width="4" height="11"/><rect x="656" y="521" width="4" height="21"/><rect x="664" y="521" width="4" height="33"/><rect x="672" y="521" width="4" height="41"/><rect x="680" y="521" width="4" height="44"/><rect x="688" y="521" width="4" height="45"/><rect x="800" y="521" width="4" height="26"/><rect x="816" y="521" width="4" height="25"/><rect x="824" y="521" width="4" height="27"/><rect x="832" y="521" width="4" height="28"/><rect x="928" y="521" width="4" height="1"/><rect x="936" y="521" width="4" height="1"/><rect x="1024" y="486" width="4" height="35"/><rect x="1032" y="491" width="4" height="30"/><rect x="1040" y="497" width="4" height="24"/><rect x="1048" y="502" width="4" height="19"/><rect x="1056" y="506" width="4" height="15"/><rect x="1064" y="509" width="4" height="12"/><rect x="1072" y="511" width="4" height="10"/><rect x="1080" y="512" width="4" height="9"/><rect x="1088" y="512" width="4" height="9"/><rect x="1096" y="514" width="4" height="7"/><rect x="1104" y="515" width="4" height="6"/></g><g fill="#008000"><rect x="0" y="505" width="4" height="16"/><rect x="8" y="504" width="4" height="17"/><rect x="16" y="503" width="4" height="18"/><rect x="24" y="501" width="4" height="20"/><rect x="80" y="504" width="4" height="17"/><rect x="88" y="503" width="4" height="18"/><rect x="96" y="503" width="4" height="18"/><rect x="208" y="521" width="4" height="9"/><rect x="216" y="521" width="4" height="9"/><rect x="224" y="521" width="4" height="8"/><rect x="264" y="521" width="4" height="10"/><rect x="272" y="521" width="4" height="8"/><rect x="280" y="521" width="4" height="6"/><rect x="288" y="521" width="4" height="4"/><rect x="296" y="521" width="4" height="1"/><rect x="304" y="520" width="4" height="1"/><rect x="312" y="517" width="4" height="4"/><rect x="320" y="515" width="4" height="6"/><rect x="328" y="513" width="4" height="8"/><rect x="336" y="512" width="4" height="9"/><rect x="384" y="514" width="4" height="7"/><rect x="392" y="512" width="4" height="9"/><rect x="400" y="510" width="4" height="11"/><rect x="408" y="507" width="4" height="14"/><rect x="416" y="504" width="4" height="17"/><rect x="424" y="503" width="4" height="18"/><rect x="432" y="501" width="4" height="20"/><rect x="440" y="501" width="4" height="20"/><rect x="448" y="500" width="4" height="21"/><rect x="464" y="499" width="4" height="22"/><rect x="480" y="498" width="4" height="23"/><rect x="488" y="498" width="4" height="23"/><rect x="552" y="517" width="4" height="4"/><rect x="560" y="516" width="4" height="5"/><rect x="568" y="516" width="4" height="5"/><rect x="616" y="519" width="4" height="2"/><rect x="624" y="518" width="4" height="3"/><rect x="696" y="521" width="4" height="44"/><rect x="704" y="521" width="4" height="41"/><rect x="712" y="521" width="4" height="39"/><rect x="720" y="521" width="4" height="38"/><rect x="728" y="521" width="4" height="36"/><rect x="736" y="521" width="4" height="35"/><rect x="744" y="521" width="4" height="34"/><rect x="752" y="521" width="4" height="32"/><rect x="760" y="521" width="4" height="31"/><rect x="768" y="521" width="4" height="29"/><rect x="776" y="521" width="4" height="27"/><rect x="784" y="521" width="4" height="26"/><rect x="792" y="521" width="4" height="25"/><rect x="808" y="521" width="4" height="25"/><rect x="840" y="521" width="4" height="28"/><rect x="848" y="521" width="4" height="28"/><rect x="856" y="521" width="4" height="27"/><rect x="864" y="521" width="4" height="24"/><rect x="872" y="521" width="4" height="21"/><rect x="880" y="521" width="4" height="17"/><rect x="888" y="521" width="4" height="13"/><rect x="896" y="521" width="4" height="9"/><rect x="904" y="521" width="4" height="5"/><rect x="912" y="521" width="4" height="2"/><rect x="920" y="521" width="4" height="1"/><rect x="944" y="521" width="4" height="1"/><rect x="952" y="521" width="4" height="1"/><rect x="960" y="518" width="4" height="3"/><rect x="968" y="514" width="4" height="7"/><rect x="976" y="508" width="4" height="13"/><rect x="984" y="501" width="4" height="20"/><rect x="992" y="494" width="4" height="27"/><rect x="1000" y="487" width="4" height="34"/><rect x="1008" y="484" width="4" height="37"/><rect x="1016" y="484" width="4" height="37"/></g></g>
<g clip-path="url(#c2)" shape-rendering="crispEdges"><g fill="#ff0000"><rect x="0" y="614" width="4" height="6"/><rect x="8" y="616" width="4" height="4"/><rect x="32" y="617" width="4" height="3"/><rect x="40" y="619" width="4" height="1"/><rect x="48" y="620" width="4" height="2"/><rect x="56" y="620" width="4" height="3"/><rect x="104" y="620" width="4" height="1"/><rect x="112" y="620" width="4" height="5"/><rect x="120" y="620" width="4" height="10"/><rect x="128" y="620" width="4" height="12"/><rect x="136" y="620" width="4" height="13"/><rect x="168" y="620" width="4" height="12"/><rect x="176" y="620" width="4" height="17"/><rect x="184" y="620" width="4" height="17"/><rect x="232" y="619" width="4" height="1"/><rect x="240" y="620" width="4" height="2"/><rect x="248" y="620" width="4" height="3"/><rect x="256" y="620" width="4" height="4"/><rect x="320" y="609" width="4" height="11"/><rect x="328" y="610" width="4" height="10"/><rect x="336" y="612" width="4" height="8"/><rect x="344" y="617" width="4" height="3"/><rect x="352" y="620" width="4" height="1"/><rect x="360" y="620" width="4" height="3"/><rect x="368" y="620" width="4" height="4"/><rect x="424" y="609" width="4" height="11"/><rect x="432" y="611" width="4" height="9"/><rect x="440" y="614" width="4" height="6"/><rect x="448" y="616" width="4" height="4"/><rect x="456" y="618" width="4" height="2"/><rect x="472" y="619" width="4" height="1"/><rect x="496" y="620" width="4" height="1"/><rect x="504" y="620" width="4" height="8"/><rect x="512" y="620" width="4" height="15"/><rect x="520" y="620" width="4" height="21"/><rect x="528" y="620" width="4" height="23"/><rect x="576" y="620" width="4" height="2"/><rect x="584" y="620" width="4" height="3"/><rect x="592" y="620" width="4" height="3"/><rect x="600" y="620" width="4" height="4"/><rect x="632" y="620" width="4" height="2"/><rect x="640" y="620" width="4" height="12"/><rect x="648" y="620" width="4" height="24"/><rect x="656" y="620" width="4" height="37"/><rect x="664" y="620" width="4" height="48"/><rect x="672" y="620" width="4" height="48"/><rect x="720" y="611" width="4" height="9"/><rect x="728" y="612" width="4" height="8"/><rect x="736" y="614" width="4" height="6"/><rect x="744" y="614" width="4" height="6"/><rect x="784" y="612" width="4" height="8"/><rect x="792" y="614" width="4" height="6"/><rect x="800" y="618" width="4" height="2"/><rect x="808" y="619" width="4" height="1"/><rect x="816" y="620" width="4" height="1"/><rect x="824" y="620" width="4" height="3"/><rect x="832" y="620" width="4" height="5"/><rect x="912" y="602" width="4" height="18"/><rect x="920" y="607" width="4" height="13"/><rect x="928" y="614" width="4" height="6"/><rect x="936" y="619" width="4" height="1"/><rect x="944" y="620" width="4" height="1"/><rect x="1008" y="592" width="4" height="28"/><rect x="1016" y="604" width="4" height="16"/><rect x="1024" y="617" width="4" height="3"/><rect x="1032" y="620" width="4" height="11"/><rect x="1040" y="620" width="4" height="23"/><rect x="1048" y="620" width="4" height="26"/><rect x="1104" y="620" width="4" height="6"/></g><g fill="#008000"><rect x="16" y="615" width="4" height="5"/><rect x="24" y="614" width="4" height="6"/><rect x="64" y="620" width="4" height="3"/><rect x="72" y="620" width="4" height="2"/><rect x="80" y="620" width="4" height="1"/><rect x="88" y="620" width="4" height="1"/><rect x="96" y="619" width="4" height="1"/><rect x="144" y="620" width="4" height="12"/><rect x="152" y="620" width="4" height="8"/><rect x="160" y="620" width="4" height="6"/><rect x="192" y="620" width="4" height="15"/><rect x="200" y="620" width="4" height="10"/><rect x="208" y="620" width="4" height="3"/><rect x="216" y="619" width="4" height="1"/><rect x="224" y="617" width="4" height="3"/><rect x="264" y="620" width="4" height="2"/><rect x="272" y="617" width="4" height="3"/><rect x="280" y="612" width="4" height="8"/><rect x="288" y="610" width="4" height="10"/><rect x="296" y="609" width="4" height="11"/><rect x="304" y="608" width="4" height="12"/><rect x="312" y="607" width="4" height="13"/><rect x="376" y="620" width="4" height="3"/><rect x="384" y="618" width="4" height="2"/><rect x="392" y="615" width="4" height="5"/><rect x="400" y="611" width="4" height="9"/><rect x="408" y="608" width="4" height="12"/><rect x="416" y="607" width="4" height="13"/><rect x="464" y="618" width="4" height="2"/><rect x="480" y="617" width="4" height="3"/><rect x="488" y="617" width="4" height="3"/><rect x="536" y="620" width="4" height="16"/><rect x="544" y="620" width="4" height="9"/><rect x="552" y="620" width="4" height="3"/><rect x="560" y="619" width="4" height="1"/><rect x="568" y="619" width="4" height="1"/><rect x="608" y="620" width="4" height="2"/><rect x="616" y="620" width="4" height="1"/><rect x="624" y="618" width="4" height="2"/><rect x="680" y="620" width="4" height="36"/><rect x="688" y="620" width="4" height="22"/><rect x="696" y="620" width="4" height="7"/><rect x="704" y="615" width="4" height="5"/><rect x="712" y="610" width="4" height="10"/><rect x="752" y="613" width="4" height="7"/><rect x="760" y="612" width="4" height="8"/><rect x="768" y="612" width="4" height="8"/><rect x="776" y="611" width="4" height="9"/><rect x="840" y="620" width="4" height="4"/><rect x="848" y="620" width="4" height="2"/><rect x="856" y="619" width="4" height="1"/><rect x="864" y="613" width="4" height="7"/><rect x="872" y="608" width="4" height="12"/><rect x="880" y="603" width="4" height="17"/><rect x="888" y="602" width="4" height="18"/><rect x="896" y="600" width="4" height="20"/><rect x="904" y="600" width="4" height="20"/><rect x="952" y="618" width="4" height="2"/><rect x="960" y="613" width="4" height="7"/><rect x="968" y="607" width="4" height="13"/><rect x="976" y="599" width="4" height="21"/><rect x="984" y="592" width="4" height="28"/><rect x="992" y="587" width="4" height="33"/><rect x="1000" y="586" width="4" height="34"/><rect x="1056" y="620" width="4" height="25"/><rect x="1064" y="620" width="4" height="21"/><rect x="1072" y="620" width="4" height="15"/><rect x="1080" y="620" width="4" height="9"/><rect x="1088" y="620" width="4" height="6"/><rect x="1096" y="620" width="4" height="5"/></g></g>
<g clip-path="url(#c3)" shape-rendering="crispEdges"><g fill="#ff0000"><rect x="16" y="710" width="4" height="16"/><rect x="24" y="712" width="4" height="14"/><rect x="64" y="704" width="4" height="22"/><rect x="72" y="706" width="4" height="20"/><rect x="80" y="706" width="4" height="20"/><rect x="104" y="706" width="4" height="20"/><rect x="112" y="706" width="4" height="20"/><rect x="120" y="707" width="4" height="19"/><rect x="144" y="707" width="4" height="19"/><rect x="152" y="711" width="4" height="15"/><rect x="160" y="716" width="4" height="10"/><rect x="168" y="717" width="4" height="9"/><rect x="184" y="717" width="4" height="9"/><rect x="192" y="719" width="4" height="7"/><rect x="200" y="723" width="4" height="3"/><rect x="208" y="725" width="4" height="1"/><rect x="232" y="720" width="4" height="6"/><rect x="240" y="721" width="4" height="5"/><rect x="248" y="722" width="4" height="4"/><rect x="256" y="722" width="4" height="4"/><rect x="264" y="722" width="4" height="4"/><rect x="296" y="720" width="4" height="6"/><rect x="304" y="721" width="4" height="5"/><rect x="312" y="723" width="4" height="3"/><rect x="368" y="717" width="4" height="9"/><rect x="376" y="718" width="4" height="8"/><rect x="384" y="719" width="4" height="7"/><rect x="392" y="720" width="4" height="6"/><rect x="400" y="721" width="4" height="5"/><rect x="408" y="721" width="4" height="5"/><rect x="416" y="722" width="4" height="4"/><rect x="496" y="708" width="4" height="18"/><rect x="528" y="703" width="4" height="23"/><rect x="536" y="706" width="4" height="20"/><rect x="544" y="711" width="4" height="15"/><rect x="552" y="717" width="4" height="9"/><rect x="560" y="719" width="4" height="7"/><rect x="568" y="721" width="4" height="5"/><rect x="584" y="719" width="4" height="7"/><rect x="600" y="720" width="4" height="6"/><rect x="608" y="720" width="4" height="6"/><rect x="616" y="721" width="4" height="5"/><rect x="624" y="722" width="4" height="4"/><rect x="640" y="722" width="4" height="4"/><rect x="672" y="723" width="4" height="3"/><rect x="720" y="688" width="4" height="38"/><rect x="728" y="690" width="4" height="36"/><rect x="736" y="691" width="4" height="35"/><rect x="752" y="692" width="4" height="34"/><rect x="760" y="693" width="4" height="33"/><rect x="768" y="694" width="4" height="32"/><rect x="776" y="694" width="4" height="32"/><rect x="784" y="694" width="4" height="32"/><rect x="792" y="696" width="4" height="30"/><rect x="800" y="698" width="4" height="28"/><rect x="808" y="700" width="4" height="26"/><rect x="816" y="701" width="4" height="25"/><rect x="848" y="701" width="4" height="25"/><rect x="888" y="697" width="4" height="29"/><rect x="896" y="700" width="4" height="26"/><rect x="904" y="702" width="4" height="24"/><rect x="912" y="702" width="4" height="24"/><rect x="920" y="705" width="4" height="21"/><rect x="928" y="709" width="4" height="17"/><rect x="936" y="713" width="4" height="13"/><rect x="944" y="716" width="4" height="10"/><rect x="952" y="716" width="4" height="10"/><rect x="968" y="716" width="4" height="10"/><rect x="976" y="717" width="4" height="9"/><rect x="984" y="719" width="4" height="7"/><rect x="992" y="722" width="4" height="4"/><rect x="1000" y="725" width="4" height="1"/><rect x="1056" y="698" width="4" height="28"/><rect x="1064" y="702" width="4" height="24"/><rect x="1072" y="707" width="4" height="19"/><rect x="1080" y="712" width="4" height="14"/><rect x="1088" y="716" width="4" height="10"/><rect x="1096" y="718" width="4" height="8"/><rect x="1104" y="719" width="4" height="7"/><rect x="1112" y="720" width="4" height="6"/><rect x="1120" y="721" width="4" height="5"/><rect x="1128" y="721" width="4" height="5"/><rect x="1136" y="722" width="4" height="4"/><rect x="1144" y="723" width="4" height="3"/></g><g fill="#008000"><rect x="0" y="714" width="4" height="12"/><rect x="8" y="710" width="4" height="16"/><rect x="32" y="711" width="4" height="15"/><rect x="40" y="708" width="4" height="18"/><rect x="48" y="704" width="4" height="22"/><rect x="56" y="704" width="4" height="22"/><rect x="88" y="706" width="4" height="20"/><rect x="96" y="705" width="4" height="21"/><rect x="128" y="706" width="4" height="20"/><rect x="136" y="705" width="4" height="21"/><rect x="176" y="716" width="4" height="10"/><rect x="216" y="721" width="4" height="5"/><rect x="224" y="719" width="4" height="7"/><rect x="272" y="721" width="4" height="5"/><rect x="280" y="720" width="4" height="6"/><rect x="288" y="719" width="4" height="7"/><rect x="336" y="724" width="4" height="2"/><rect x="344" y="722" width="4" height="4"/><rect x="352" y="718" width="4" height="8"/><rect x="360" y="717" width="4" height="9"/><rect x="424" y="720" width="4" height="6"/><rect x="432" y="716" width="4" height="10"/><rect x="440" y="714" width="4" height="12"/><rect x="448" y="713" width="4" height="13"/><rect x="456" y="712" width="4" height="14"/><rect x="464" y="711" width="4" height="15"/><rect x="472" y="708" width="4" height="18"/><rect x="480" y="707" width="4" height="19"/><rect x="488" y="707" width="4" height="19"/><rect x="504" y="707" width="4" height="19"/><rect x="512" y="706" width="4" height="20"/><rect x="520" y="703" width="4" height="23"/><rect x="576" y="719" width="4" height="7"/><rect x="592" y="719" width="4" height="7"/><rect x="632" y="722" width="4" height="4"/><rect x="648" y="722" width="4" height="4"/><rect x="656" y="722" width="4" height="4"/><rect x="664" y="720" width="4" height="6"/><rect x="680" y="722" width="4" height="4"/><rect x="688" y="711" width="4" height="15"/><rect x="696" y="700" width="4" height="26"/><rect x="704" y="692" width="4" height="34"/><rect x="712" y="688" width="4" height="38"/><rect x="744" y="691" width="4" height="35"/><rect x="824" y="701" width="4" height="25"/><rect x="832" y="701" width="4" height="25"/><rect x="840" y="699" width="4" height="27"/><rect x="856" y="700" width="4" height="26"/><rect x="864" y="699" width="4" height="27"/><rect x="872" y="696" width="4" height="30"/><rect x="880" y="694" width="4" height="32"/><rect x="960" y="716" width="4" height="10"/><rect x="1008" y="723" width="4" height="3"/><rect x="1016" y="715" width="4" height="11"/><rect x="1024" y="708" width="4" height="18"/><rect x="1032" y="701" width="4" height="25"/><rect x="1040" y="696" width="4" height="30"/><rect x="1048" y="695" width="4" height="31"/></g></g>
<g clip-path="url(#c3)" shape-rendering="crispEdges"><g fill="#ff0000"><rect x="0" y="726" width="4" height="11"/><rect x="8" y="726" width="4" height="8"/><rect x="40" y="726" width="4" height="18"/><rect x="48" y="726" width="4" height="16"/><rect x="56" y="726" width="4" height="15"/><rect x="64" y="726" width="4" height="14"/><rect x="80" y="726" width="4" height="15"/><rect x="88" y="726" width="4" height="14"/><rect x="96" y="726" width="4" height="13"/><rect x="104" y="726" width="4" height="13"/><rect x="128" y="726" width="4" height="12"/><rect x="136" y="726" width="4" height="5"/><rect x="144" y="726" width="4" height="1"/><rect x="152" y="726" width="4" height="1"/><rect x="168" y="726" width="4" height="1"/><rect x="208" y="726" width="4" height="13"/><rect x="216" y="726" width="4" height="11"/><rect x="224" y="726" width="4" height="9"/><rect x="232" y="726" width="4" height="8"/><rect x="240" y="726" width="4" height="7"/><rect x="248" y="726" width="4" height="6"/><rect x="272" y="726" width="4" height="8"/><rect x="280" y="726" width="4" height="6"/><rect x="288" y="726" width="4" height="4"/><rect x="296" y="726" width="4" height="1"/><rect x="344" y="726" width="4" height="12"/><rect x="352" y="726" width="4" height="10"/><rect x="360" y="726" width="4" height="9"/><rect x="368" y="726" width="4" height="7"/><rect x="376" y="726" width="4" height="6"/><rect x="384" y="726" width="4" height="5"/><rect x="392" y="726" width="4" height="3"/><rect x="400" y="726" width="4" height="3"/><rect x="432" y="726" width="4" height="12"/><rect x="464" y="726" width="4" height="18"/><rect x="472" y="726" width="4" height="16"/><rect x="480" y="726" width="4" height="14"/><rect x="512" y="726" width="4" height="19"/><rect x="520" y="726" width="4" height="12"/><rect x="528" y="726" width="4" height="5"/><rect x="536" y="726" width="4" height="1"/><rect x="560" y="726" width="4" height="1"/><rect x="576" y="726" width="4" height="1"/><rect x="592" y="726" width="4" height="1"/><rect x="616" y="726" width="4" height="1"/><rect x="624" y="726" width="4" height="1"/><rect x="656" y="726" width="4" height="1"/><rect x="704" y="726" width="4" height="39"/><rect x="712" y="726" width="4" height="35"/><rect x="720" y="726" width="4" height="33"/><rect x="728" y="726" width="4" height="32"/><rect x="736" y="726" width="4" height="29"/><rect x="744" y="726" width="4" height="26"/><rect x="752" y="726" width="4" height="25"/><rect x="760" y="726" width="4" height="24"/><rect x="768" y="726" width="4" height="22"/><rect x="776" y="726" width="4" height="20"/><rect x="784" y="726" width="4" height="17"/><rect x="792" y="726" width="4" height="15"/><rect x="800" y="726" width="4" height="13"/><rect x="832" y="726" width="4" height="15"/><rect x="840" y="726" width="4" height="14"/><rect x="864" y="726" width="4" height="23"/><rect x="872" y="726" width="4" height="18"/><rect x="880" y="726" width="4" height="14"/><rect x="888" y="726" width="4" height="14"/><rect x="896" y="726" width="4" height="13"/><rect x="904" y="726" width="4" height="9"/><rect x="912" y="726" width="4" height="3"/><rect x="920" y="726" width="4" height="1"/><rect x="936" y="726" width="4" height="1"/><rect x="944" y="726" width="4" height="1"/><rect x="960" y="726" width="4" height="1"/><rect x="1032" y="726" width="4" height="35"/><rect x="1040" y="726" width="4" height="28"/><rect x="1048" y="726" width="4" height="22"/><rect x="1056" y="726" width="4" height="14"/><rect x="1064" y="726" width="4" height="8"/><rect x="1072" y="726" width="4" height="4"/><rect x="1080" y="726" width="4" height="3"/><rect x="1088" y="726" width="4" height="1"/><rect x="1096" y="726" width="4" height="1"/><rect x="1112" y="726" width="4" height="1"/></g><g fill="#008000"><rect x="16" y="726" width="4" height="12"/><rect x="24" y="726" width="4" height="17"/><rect x="32" y="726" width="4" height="19"/><rect x="72" y="726" width="4" height="15"/><rect x="112" y="726" width="4" height="14"/><rect x="120" y="726" width="4" height="15"/><rect x="160" y="726" width="4" height="4"/><rect x="176" y="726" width="4" height="3"/><rect x="184" y="726" width="4" height="5"/><rect x="192" y="726" width="4" height="11"/><rect x="200" y="726" width="4" height="14"/><rect x="256" y="726" width="4" height="8"/><rect x="264" y="726" width="4" height="9"/><rect x="304" y="726" width="4" height="3"/><rect x="312" y="726" width="4" height="3"/><rect x="320" y="726" width="4" height="4"/><rect x="328" y="726" width="4" height="8"/><rect x="336" y="726" width="4" height="12"/><rect x="408" y="726" width="4" height="7"/><rect x="416" y="726" width="4" height="12"/><rect x="424" y="726" width="4" height="13"/><rect x="440" y="726" width="4" height="13"/><rect x="448" y="726" width="4" height="15"/><rect x="456" y="726" width="4" height="18"/><rect x="488" y="726" width="4" height="17"/><rect x="496" y="726" width="4" height="18"/><rect x="504" y="726" width="4" height="20"/><rect x="544" y="726" width="4" height="2"/><rect x="552" y="726" width="4" height="2"/><rect x="568" y="726" width="4" height="2"/><rect x="584" y="726" width="4" height="2"/><rect x="600" y="726" width="4" height="1"/><rect x="608" y="726" width="4" height="1"/><rect x="632" y="726" width="4" height="1"/><rect x="640" y="726" width="4" height="2"/><rect x="648" y="726" width="4" height="5"/><rect x="664" y="726" width="4" height="14"/><rect x="672" y="726" width="4" height="27"/><rect x="680" y="726" width="4" height="36"/><rect x="688" y="726" width="4" height="43"/><rect x="696" y="726" width="4" height="44"/><rect x="808" y="726" width="4" height="14"/><rect x="816" y="726" width="4" height="15"/><rect x="824" y="726" width="4" height="17"/><rect x="848" y="726" width="4" height="20"/><rect x="856" y="726" width="4" height="23"/><rect x="928" y="726" width="4" height="2"/><rect x="952" y="726" width="4" height="1"/><rect x="968" y="726" width="4" height="2"/><rect x="976" y="726" width="4" height="5"/><rect x="984" y="726" width="4" height="8"/><rect x="992" y="726" width="4" height="14"/><rect x="1000" y="726" width="4" height="23"/><rect x="1008" y="726" width="4" height="30"/><rect x="1016" y="726" width="4" height="35"/><rect x="1024" y="726" width="4" height="38"/><rect x="1104" y="726" width="4" height="1"/><rect x="1120" y="726" width="4" height="2"/><rect x="1128" y="726" width="4" height="3"/></g></g>
<g fill="none" stroke="#000" stroke-width="1" shape-rendering="crispEdges">
<rect x="2.5" y="2.5" width="1235" height="471"/>
<rect x="2.5" y="475.5" width="1235" height="100"/>
<rect x="2.5" y="577.5" width="1235" height="100"/>
<rect x="2.5" y="679.5" width="1235" height="100"/>
</g>
<g fill="#000" shape-rendering="crispEdges">
<rect x="1238" y="41" width="4" height="1"/>
<rect x="1238" y="80" width="4" height="1"/>
<rect x="1238" y="120" width="4" height="1"/>
<rect x="1238" y="159" width="4" height="1"/>
<rect x="1238" y="198" width="4" height="1"/>
<rect x="1238" y="237" width="4" height="1"/>
<rect x="1238" y="277" width="4" height="1"/>
<rect x="1238" y="316" width="4" height="1"/>
<rect x="1238" y="355" width="4" height="1"/>
<rect x="1238" y="394" width="4" height="1"/>
<rect x="1238" y="434" width="4" height="1"/>
<rect x="1238" y="476" width="4" height="1"/>
<rect x="1238" y="574" width="4" height="1"/>
<rect x="1238" y="578" width="4" height="1"/>
<rect x="1238" y="676" width="4" height="1"/>
<rect x="1238" y="680" width="4" height="1"/>
<rect x="1238" y="778" width="4" height="1"/>
<rect x="2" y="780" width="1" height="4"/>
<rect x="66" y="780" width="1" height="4"/>
<rect x="130" y="780" width="1" height="4"/>
<rect x="194" y="780" width="1" height="4"/>
<rect x="258" y="780" width="1" height="4"/>
<rect x="322" y="780" width="1" height="4"/>
<rect x="386" y="780" width="1" height="4"/>
<rect x="450" y="780" width="1" height="4"/>
<rect x="514" y="780" width="1" height="4"/>
<rect x="578" y="780" width="1" height="4"/>
<rect x="642" y="780" width="1" height="4"/>
<rect x="706" y="780" width="1" height="4"/>
<rect x="770" y="780" width="1" height="4"/>
<rect x="834" y="780" width="1" height="4"/>
<rect x="898" y="780" width="1" height="4"/>
<rect x="962" y="780" width="1" height="4"/>
<rect x="1026" y="780" width="1" height="4"/>
<rect x="1090" y="780" width="1" height="4"/>
</g>
<text transform="translate(1243 45) scale(0.9424 1)">2.900</text>
<text transform="translate(1243 84) scale(0.9424 1)">2.880</text>
<text transform="translate(1243 124) scale(0.9424 1)">2.860</text>
<text transform="translate(1243 163) scale(0.9424 1)">2.840</text>
<text transform="translate(1243 202) scale(0.9424 1)">2.820</text>
<text transform="translate(1243 241) scale(0.9424 1)">2.800</text>
<text transform="translate(1243 281) scale(0.9424 1)">2.780</text>
<text transform="translate(1243 320) scale(0.9424 1)">2.760</text>
<text transform="translate(1243 359) scale(0.9424 1)">2.740</text>
<text transform="translate(1243 398) scale(0.9424 1)">2.720</text>
<text transform="translate(1243 438) scale(0.9424 1)">2.700</text>
<rect x="1240" y="276" width="29" height="11" fill="#cc0000" shape-rendering="crispEdges"/>
<text transform="translate(1243 285) scale(0.9424 1)" style="fill:#fff;stroke:#fff;stroke-width:0.15px">2.778</text>
<text transform="translate(1243 484) scale(0.9424 1)">0.0961</text>
<text transform="translate(1243 573) scale(0.9424 1)">-0.1139</text>
<text transform="translate(1243 586) scale(0.9424 1)">0.03598</text>
<text transform="translate(1243 675) scale(0.9424 1)">-0.04725</text>
<text transform="translate(1243 688) scale(0.9424 1)">0.0460</text>
<text transform="translate(1243 777) scale(0.9424 1)">-0.0512</text>
<text transform="translate(6 488) scale(0.9424 1)">AOcust 0.0123</text>
<text transform="translate(6 590) scale(0.9424 1)">ACcust -0.00457</text>
<text transform="translate(6 692) scale(0.9424 1)">GatorCust 0.0033 -0.0025</text>
<text transform="translate(2 792) scale(0.9424 1)">20 Apr 2026</text>
<text transform="translate(66 792) scale(0.9424 1)">20 Apr 10:00</text>
<text transform="translate(130 792) scale(0.9424 1)">20 Apr 18:00</text>
<text transform="translate(194 792) scale(0.9424 1)">21 Apr 04:00</text>
<text transform="translate(258 792) scale(0.9424 1)">21 Apr 12:00</text>
<text transform="translate(322 792) scale(0.9424 1)">21 Apr 20:00</text>
<text transform="translate(386 792) scale(0.9424 1)">22 Apr 06:00</text>
<text transform="translate(450 792) scale(0.9424 1)">22 Apr 14:00</text>
<text transform="translate(514 792) scale(0.9424 1)">22 Apr 22:00</text>
<text transform="translate(578 792) scale(0.9424 1)">23 Apr 08:00</text>
<text transform="translate(642 792) scale(0.9424 1)">23 Apr 16:00</text>
<text transform="translate(706 792) scale(0.9424 1)">24 Apr 02:00</text>
<text transform="translate(770 792) scale(0.9424 1)">24 Apr 10:00</text>
<text transform="translate(834 792) scale(0.9424 1)">24 Apr 18:00</text>
<text transform="translate(898 792) scale(0.9424 1)">27 Apr 04:00</text>
<text transform="translate(962 792) scale(0.9424 1)">27 Apr 12:00</text>
<text transform="translate(1026 792) scale(0.9424 1)">27 Apr 20:00</text>
<text transform="translate(1090 792) scale(0.9424 1)">28 Apr 06:00</text>
</svg></body></html>
